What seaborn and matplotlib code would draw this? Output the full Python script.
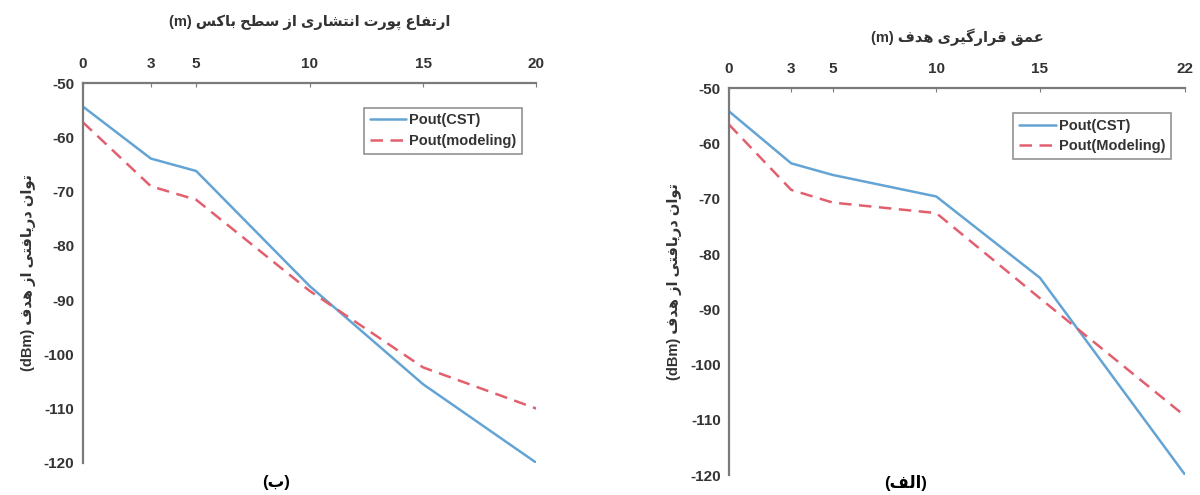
import numpy as np
import pandas as pd
import matplotlib
matplotlib.use("Agg")
import matplotlib.pyplot as plt
import seaborn as sns

# ─────────────────────────────────────────────
# DATA
# ─────────────────────────────────────────────
# (ب) port height above box surface
height_m = [0, 3, 5, 10, 15, 20]
b_cst = [-54.3, -63.9, -66.2, -87.4, -105.5, -120.0]
b_model = [-57.2, -69.0, -71.5, -88.3, -102.4, -110.0]

# (الف) target depth
depth_m = [0, 3, 5, 10, 15, 22]
a_cst = [-54.2, -63.6, -65.7, -69.6, -84.3, -119.9]
a_model = [-56.6, -68.4, -70.7, -72.6, -88.0, -109.3]

yticks = [-50, -60, -70, -80, -90, -100, -110, -120]

b_xlabel = "ارتفاع پورت انتشاری از سطح باکس"
a_xlabel = "عمق قرارگیری هدف"
ylabel = "توان دریافتی از هدف"
b_tag = "ب"
a_tag = "الف"


# ─────────────────────────────────────────────
# Minimal Arabic/Persian shaping (no bidi libs available)
# forms: isolated, final, initial, medial
# ─────────────────────────────────────────────
FORMS = {
    "ا": ("\uFE8D", "\uFE8E", None, None),
    "ب": ("\uFE8F", "\uFE90", "\uFE91", "\uFE92"),
    "پ": ("\uFB56", "\uFB57", "\uFB58", "\uFB59"),
    "ت": ("\uFE95", "\uFE96", "\uFE97", "\uFE98"),
    "ح": ("\uFEA1", "\uFEA2", "\uFEA3", "\uFEA4"),
    "د": ("\uFEA9", "\uFEAA", None, None),
    "ر": ("\uFEAD", "\uFEAE", None, None),
    "ز": ("\uFEAF", "\uFEB0", None, None),
    "س": ("\uFEB1", "\uFEB2", "\uFEB3", "\uFEB4"),
    "ش": ("\uFEB5", "\uFEB6", "\uFEB7", "\uFEB8"),
    "ط": ("\uFEC1", "\uFEC2", "\uFEC3", "\uFEC4"),
    "ع": ("\uFEC9", "\uFECA", "\uFECB", "\uFECC"),
    "ف": ("\uFED1", "\uFED2", "\uFED3", "\uFED4"),
    "ق": ("\uFED5", "\uFED6", "\uFED7", "\uFED8"),
    "ک": ("\uFB8E", "\uFB8F", "\uFB90", "\uFB91"),
    "گ": ("\uFB92", "\uFB93", "\uFB94", "\uFB95"),
    "ل": ("\uFEDD", "\uFEDE", "\uFEDF", "\uFEE0"),
    "م": ("\uFEE1", "\uFEE2", "\uFEE3", "\uFEE4"),
    "ن": ("\uFEE5", "\uFEE6", "\uFEE7", "\uFEE8"),
    "ه": ("\uFEE9", "\uFEEA", "\uFEEB", "\uFEEC"),
    "و": ("\uFEED", "\uFEEE", None, None),
    "ی": ("\uFBFC", "\uFBFD", "\uFBFE", "\uFBFF"),
}


def rtl(text):
    out = []
    for i, c in enumerate(text):
        if c not in FORMS:
            out.append(c)
            continue
        prev = text[i - 1] if i > 0 else ""
        nxt = text[i + 1] if i + 1 < len(text) else ""
        join_prev = prev in FORMS and FORMS[prev][2] is not None
        join_next = nxt in FORMS and FORMS[c][2] is not None
        iso, fin, ini, med = FORMS[c]
        if join_prev and join_next:
            out.append(med)
        elif join_prev:
            out.append(fin)
        elif join_next:
            out.append(ini)
        else:
            out.append(iso)
    return "".join(reversed(out))


# ─────────────────────────────────────────────
# STYLE
# ─────────────────────────────────────────────
sns.set_style("white")
plt.rcParams["font.family"] = ["Liberation Sans", "DejaVu Sans"]
plt.rcParams["axes.unicode_minus"] = False

FAMILY = ["Liberation Sans", "DejaVu Sans"]
CST_COLOR = "#64a4d4"
MOD_COLOR = "#e2606e"
SPINE = "#7a7a7a"
TXT = "#333333"

fig = plt.figure(figsize=(12, 4.95), dpi=100)
ax_b = fig.add_axes([0.069, 0.065, 0.378, 0.767])
ax_a = fig.add_axes([0.6075, 0.040, 0.380, 0.782])


def draw(ax, x, cst, model, model_name, xmax, xlabel_text):
    df = pd.DataFrame({
        "x": list(x) * 2,
        "y": list(cst) + list(model),
        "series": ["Pout(CST)"] * len(x) + [model_name] * len(x),
    })
    sns.lineplot(data=df, x="x", y="y", hue="series", style="series",
                 palette=[CST_COLOR, MOD_COLOR], dashes=[(None, None), (5, 3)],
                 linewidth=1.8, ax=ax, legend=True)
    ax.set_xlim(0, xmax)
    ax.set_ylim(-120, -50)
    ax.set_xticks(list(x))
    ax.set_yticks(yticks)
    ax.xaxis.tick_top()
    ax.xaxis.set_label_position("top")
    for s in ["right", "bottom"]:
        ax.spines[s].set_visible(False)
    for s in ["top", "left"]:
        ax.spines[s].set_color(SPINE)
        ax.spines[s].set_linewidth(1.6)
    ax.tick_params(axis="both", direction="in", length=3, width=0.8,
                   color=SPINE, labelsize=11, labelcolor=TXT, pad=6)
    ax.tick_params(axis="x", pad=9)
    for lab in ax.get_xticklabels() + ax.get_yticklabels():
        lab.set_fontweight("bold")
    ax.set_xlabel("(m) " + rtl(xlabel_text), fontsize=10.5, fontweight="bold",
                  color=TXT, family=FAMILY)
    ax.set_ylabel("(dBm) " + rtl(ylabel), fontsize=10.5, fontweight="bold",
                  color=TXT, family=FAMILY, labelpad=6)
    leg = ax.legend(loc="upper right", bbox_to_anchor=(0.985, 0.955),
                    frameon=True, fancybox=False, fontsize=10.5,
                    handlelength=2.5, borderpad=0.4, labelspacing=0.45,
                    handletextpad=0.2)
    leg.get_frame().set_edgecolor("#777777")
    leg.get_frame().set_linewidth(1.2)
    for t in leg.get_texts():
        t.set_fontweight("bold")
        t.set_color(TXT)


draw(ax_b, height_m, b_cst, b_model, "Pout(modeling)", 20, b_xlabel)
draw(ax_a, depth_m, a_cst, a_model, "Pout(Modeling)", 22, a_xlabel)

ax_b.xaxis.labelpad = 22
ax_a.xaxis.labelpad = 14

fig.text(0.23, 0.025, "(" + rtl(b_tag) + ")", ha="center", va="center",
         fontsize=12, fontweight="bold", family=FAMILY, color="black")
fig.text(0.755, 0.025, "(" + rtl(a_tag) + ")", ha="center", va="center",
         fontsize=12, fontweight="bold", family=FAMILY, color="black")

fig.savefig("out.png", dpi=100)
